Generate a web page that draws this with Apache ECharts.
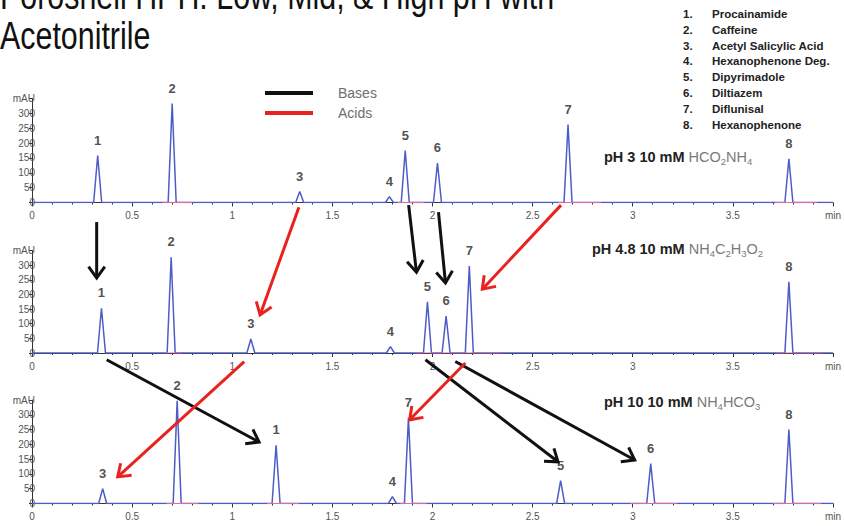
<!DOCTYPE html>
<html><head><meta charset="utf-8">
<script src="https://cdn.jsdelivr.net/npm/echarts@6/dist/echarts.min.js"></script>
<style>html,body{margin:0;padding:0;background:#fff}#c{width:844px;height:526px}</style>
</head><body><div id="c"></div>
<script>
// ---------- data ----------
const titleLines = ['Poroshell HPH: Low, Mid, & High pH with', 'Acetonitrile'];
const compoundIds = ['1', '2', '3', '4', '5', '6', '7', '8'];
const compoundNames = ['Procainamide', 'Caffeine', 'Acetyl Salicylic Acid', 'Hexanophenone Deg.',
  'Dipyrimadole', 'Diltiazem', 'Diflunisal', 'Hexanophenone'];
const legendNames = ['Bases', 'Acids'];
const xTickLabels = ['0', '0.5', '1', '1.5', '2', '2.5', '3', '3.5', 'min'];
const yUnit = 'mAU';

// retention time (min) and height (mAU) of compounds 1..8 in each run
const rtPH3 = [0.328, 0.700, 1.337, 1.785, 1.864, 2.025, 2.677, 3.780];
const htPH3 = [158, 333, 37, 20, 175, 133, 262, 147];
const rtPH48 = [0.347, 0.695, 1.093, 1.790, 1.975, 2.068, 2.184, 3.780];
const htPH48 = [153, 327, 48, 22, 175, 126, 297, 243];
const rtPH10 = [1.219, 0.725, 0.353, 1.800, 2.640, 3.090, 1.880, 3.780];
const htPH10 = [197, 347, 50, 23, 77, 135, 290, 250];

// integration baselines (start, end min)
const intPH3 = [[0.652, 0.801], [1.826, 1.960], [2.627, 2.841], [3.711, 3.920]];
const intPH48 = [[0.662, 0.746], [1.914, 2.342], [3.716, 3.950]];
const intPH10 = [[0.672, 0.831], [1.174, 1.333], [1.839, 1.969], [2.989, 3.220], [3.701, 3.940]];

// run labels: [bold part, buffer formula parts (text, isSubscript)]
const runBold = ['pH 3 10 mM ', 'pH 4.8 10 mM ', 'pH 10 10 mM '];
const runBuffer = [
  [['HCO', 0], ['2', 1], ['NH', 0], ['4', 1]],
  [['NH', 0], ['4', 1], ['C', 0], ['2', 1], ['H', 0], ['3', 1], ['O', 0], ['2', 1]],
  [['NH', 0], ['4', 1], ['HCO', 0], ['3', 1]]
];

// migration arrows, in data coordinates of the target panel: [panel, [t,mAU] from, [t,mAU] to]
const arrowsBases = [
  [1, [0.323, 447], [0.323, 256]],
  [1, [1.881, 505], [1.920, 276]],
  [1, [2.030, 481], [2.065, 239]],
  [2, [0.373, 486], [1.134, 208]],
  [2, [1.965, 486], [2.627, 141]],
  [2, [2.114, 480], [3.010, 147]]
];
const arrowsAcids = [
  [1, [1.333, 498], [1.139, 130]],
  [1, [2.642, 505], [2.249, 218]],
  [2, [1.060, 480], [0.428, 90]],
  [2, [2.164, 475], [1.886, 283]]
];

// ---------- build ----------
const runs = [[rtPH3, htPH3, intPH3], [rtPH48, htPH48, intPH48], [rtPH10, htPH10, intPH10]];
const gridBoxes = [{ top: 98.5, height: 104 }, { top: 250.5, height: 102.5 }, { top: 400, height: 103.5 }];
const HALF = 0.02;
const BLUE = '#4d5cc6';

function trace(rt, ht) {
  const idx = rt.map((_, i) => i).sort((a, b) => rt[a] - rt[b]);
  const pts = [[0, 0]];
  idx.forEach(i => { pts.push([rt[i] - HALF, 0], [rt[i], ht[i]], [rt[i] + HALF, 0]); });
  pts.push([4, 0]);
  return pts;
}

const grids = [], xAxes = [], yAxes = [], series = [];
runs.forEach((r, g) => {
  grids.push({ left: 32, right: 8, top: gridBoxes[g].top, height: gridBoxes[g].height });
  xAxes.push({
    gridIndex: g, type: 'value', min: 0, max: 4, interval: 0.5, offset: 3,
    axisLine: { lineStyle: { color: '#333', width: 1 } },
    axisTick: { length: 4, lineStyle: { color: '#333' } },
    minorTick: { show: true, splitNumber: 5, length: 2, lineStyle: { color: '#333' } },
    splitLine: { show: false },
    axisLabel: { fontSize: 10, color: '#555', margin: 5, fontFamily: 'Liberation Sans',
      formatter: v => xTickLabels[Math.round(v / 0.5)] }
  });
  yAxes.push({
    gridIndex: g, type: 'value', min: 0, max: 350, interval: 50,
    axisLine: { show: true, lineStyle: { color: '#333', width: 1 } },
    axisTick: { show: true, length: 3, lineStyle: { color: '#333' } },
    splitLine: { show: false },
    axisLabel: { fontSize: 10, color: '#555', margin: -3, fontFamily: 'Liberation Sans',
      formatter: v => v === 350 ? yUnit : String(v) }
  });
  series.push({
    type: 'line', xAxisIndex: g, yAxisIndex: g, data: trace(r[0], r[1]),
    symbol: 'none', lineStyle: { color: BLUE, width: 1.5 }, z: 2, silent: true
  });
  r[2].forEach(seg => series.push({
    type: 'line', xAxisIndex: g, yAxisIndex: g, data: [[seg[0], 0], [seg[1], 0]],
    symbol: 'none', lineStyle: { color: '#e06aa8', width: 1.2 }, z: 3, silent: true
  }));
  series.push({
    type: 'scatter', xAxisIndex: g, yAxisIndex: g, symbolSize: 0,
    data: r[0].map((t, i) => [t, r[1][i], compoundIds[i]]),
    label: { show: true, position: 'top', distance: 9, fontSize: 13, fontWeight: 'bold',
      color: '#222', fontFamily: 'Liberation Sans', formatter: p => p.value[2] },
    z: 4, silent: true
  });
});

const chart = echarts.init(document.getElementById('c'), null, { renderer: 'svg' });
chart.setOption({
  animation: false, backgroundColor: '#fff',
  grid: grids, xAxis: xAxes, yAxis: yAxes, series: series
});

// ---------- annotations ----------
const gfx = [];
// title (first line is cropped at the top edge, as in the source slide)
gfx.push({ type: 'text', x: 0, y: -4, scaleX: 0.8, style: { text: titleLines[0], font: '38px "Liberation Sans"', fill: '#111', textVerticalAlign: 'middle' } });
gfx.push({ type: 'text', x: 0, y: 36, scaleX: 0.8, style: { text: titleLines[1], font: '38px "Liberation Sans"', fill: '#111', textVerticalAlign: 'middle' } });
// compound list
compoundNames.forEach((n, i) => {
  const y = 14 + i * 15.8;
  gfx.push({ type: 'text', x: 683, y: y, style: { text: compoundIds[i] + '.', font: 'bold 11.5px "Liberation Sans"', fill: '#222', textVerticalAlign: 'middle' } });
  gfx.push({ type: 'text', x: 712, y: y, style: { text: n, font: 'bold 11.5px "Liberation Sans"', fill: '#222', textVerticalAlign: 'middle' } });
});
// arrow legend
[['#111', 93], ['#e8231f', 113]].forEach((c, i) => {
  gfx.push({ type: 'line', shape: { x1: 265, y1: c[1], x2: 313, y2: c[1] }, style: { stroke: c[0], lineWidth: 4 } });
  gfx.push({ type: 'text', x: 338, y: c[1], style: { text: legendNames[i], font: '14px "Liberation Sans"', fill: '#6e6e6e', textVerticalAlign: 'middle' } });
});
// run labels
const runLabelPos = [[604, 157], [592, 249], [604, 402]];
runBold.forEach((b, g) => {
  let rich = '{b|' + b + '}';
  runBuffer[g].forEach(p => { rich += (p[1] ? '{s|' : '{g|') + p[0] + '}'; });
  gfx.push({ type: 'text', x: runLabelPos[g][0], y: runLabelPos[g][1], style: {
    text: rich, textVerticalAlign: 'middle',
    rich: {
      b: { font: 'bold 14.5px "Liberation Sans"', fill: '#222', lineHeight: 18, verticalAlign: 'middle' },
      g: { font: '14.5px "Liberation Sans"', fill: '#7a7a7a', lineHeight: 18, verticalAlign: 'middle' },
      s: { font: '9.5px "Liberation Sans"', fill: '#7a7a7a', lineHeight: 10, verticalAlign: 'bottom' }
    } } });
});
// arrows
function addArrow(a, color) {
  const p1 = chart.convertToPixel({ gridIndex: a[0] }, a[1]);
  const p2 = chart.convertToPixel({ gridIndex: a[0] }, a[2]);
  const ang = Math.atan2(p2[1] - p1[1], p2[0] - p1[0]);
  const L = 14, s = 0.62;
  const l = [p2[0] - L * Math.cos(ang - s), p2[1] - L * Math.sin(ang - s)];
  const r = [p2[0] - L * Math.cos(ang + s), p2[1] - L * Math.sin(ang + s)];
  gfx.push({ type: 'polyline', z: 10, shape: { points: [p1, p2] }, style: { stroke: color, lineWidth: 3, fill: null } });
  gfx.push({ type: 'polyline', z: 10, shape: { points: [l, p2, r] }, style: { stroke: color, lineWidth: 3, fill: null, lineJoin: 'miter' } });
}
arrowsBases.forEach(a => addArrow(a, '#111'));
arrowsAcids.forEach(a => addArrow(a, '#e8231f'));

chart.setOption({ graphic: gfx });
</script></body></html>
